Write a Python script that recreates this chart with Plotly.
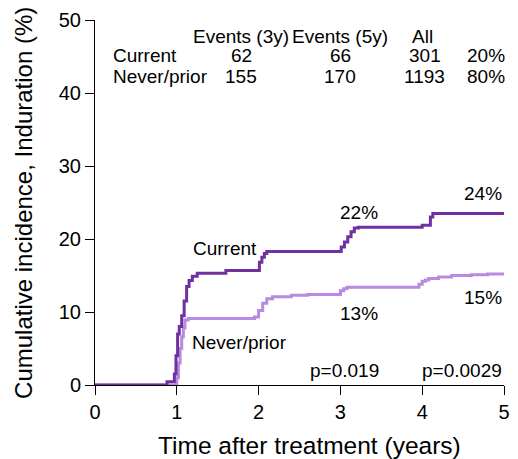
import plotly.graph_objects as go

# ---- data ----
current_t = [0, 0.88, 0.97, 0.99, 1.01, 1.03, 1.06, 1.09, 1.12, 1.15, 1.19, 1.25, 1.6, 2.01, 2.04, 2.07, 2.10,
             3.01, 3.05, 3.09, 3.13, 3.17, 3.22, 4.0, 4.1, 4.13, 5.0]
current_v = [0, 0.45, 1.5, 4.0, 7.0, 8.0, 9.5, 11.5, 13.5, 14.3, 14.9, 15.3, 15.7, 16.8, 17.5, 18.0, 18.3,
             18.9, 19.6, 20.3, 21.0, 21.5, 21.6, 21.9, 23.0, 23.5, 23.5]

never_t = [0, 1.0, 1.02, 1.04, 1.06, 1.08, 1.10, 1.14, 1.95, 2.0, 2.05, 2.1, 2.17, 2.4, 2.6,
           3.0, 3.04, 3.08, 3.96, 4.0, 4.04, 4.08, 4.2, 4.36, 4.6, 4.8, 5.0]
never_v = [0, 1.0, 3.0, 5.0, 6.6, 7.8, 8.9, 9.1, 9.3, 10.2, 11.2, 11.8, 12.1, 12.3, 12.4,
           12.9, 13.2, 13.4, 13.8, 14.2, 14.4, 14.6, 14.8, 15.0, 15.1, 15.2, 15.2]

groups = ["Current", "Never/prior"]
table_header = ["Events (3y)", "Events (5y)", "All"]
events_3y = ["62", "155"]
events_5y = ["66", "170"]
all_n = ["301", "1193"]
pct = ["20%", "80%"]
rate_3y = ["22%", "13%"]
rate_5y = ["24%", "15%"]
p_values = ["p=0.019", "p=0.0029"]

x_ticks = [0, 1, 2, 3, 4, 5]
y_ticks = [0, 10, 20, 30, 40, 50]
x_title = "Time after treatment (years)"
y_title = "Cumulative incidence, Induration (%)"

DARK = "#7030A0"
LIGHT = "#B78BE0"
FONT = "Liberation Sans, Arial, sans-serif"

fig = go.Figure()
fig.add_trace(go.Scatter(x=never_t, y=never_v, mode="lines", line=dict(color=LIGHT, width=3, shape="hv"),
                         name=groups[1], showlegend=False, hoverinfo="skip"))
fig.add_trace(go.Scatter(x=current_t, y=current_v, mode="lines", line=dict(color=DARK, width=3, shape="hv"),
                         name=groups[0], showlegend=False, hoverinfo="skip"))

ann = []
def add(text, x, y, xanchor="center", size=19):
    ann.append(dict(text=text, x=x, y=y, xref="x", yref="y", showarrow=False,
                    xanchor=xanchor, yanchor="middle", font=dict(size=size, color="black", family=FONT)))

# table
hdr_x = [1.79, 2.99, 4.0]
row_y = [45.1, 42.2]
for h, x in zip(table_header, hdr_x):
    add(h, x, 47.7)
for i in range(2):
    add(groups[i], 0.2, row_y[i], xanchor="left")
    add(events_3y[i], 1.79, row_y[i])
    add(events_5y[i], 3.0, row_y[i])
    add(all_n[i], 4.03, row_y[i])
    add(pct[i], 4.78, row_y[i])

# curve labels
add(groups[0], 1.59, 18.7)
add(groups[1], 1.77, 5.8)
add(rate_3y[0], 3.49, 23.6, xanchor="right")
add(rate_5y[0], 5.0, 26.3, xanchor="right")
add(rate_3y[1], 3.49, 9.73, xanchor="right")
add(rate_5y[1], 5.0, 11.96, xanchor="right")
add(p_values[0], 3.5, 1.92, xanchor="right")
add(p_values[1], 5.0, 1.92, xanchor="right")

# axis titles (placed relative to plot area)
ann.append(dict(text=x_title, x=0.525, y=-0.167, xref="paper", yref="paper", showarrow=False,
                xanchor="center", yanchor="middle", font=dict(size=24.5, color="black", family=FONT)))
ann.append(dict(text=y_title, x=-0.175, y=0.5, xref="paper", yref="paper", showarrow=False, textangle=-90,
                xanchor="center", yanchor="middle", font=dict(size=24, color="black", family=FONT)))

fig.update_layout(
    width=518, height=459,
    margin=dict(l=95, r=8, t=20, b=74),
    paper_bgcolor="white", plot_bgcolor="white",
    font=dict(family=FONT, color="black", size=20),
    annotations=ann,
    xaxis=dict(range=[0, 5], tickvals=x_ticks, ticks="outside", ticklen=9, tickwidth=1, tickcolor="black",
               showline=True, linecolor="black", linewidth=1, showgrid=False, zeroline=False,
               tickfont=dict(size=20)),
    yaxis=dict(range=[0, 50], tickvals=y_ticks, ticks="outside", ticklen=9, tickwidth=1, tickcolor="black",
               showline=True, linecolor="black", linewidth=1, showgrid=False, zeroline=False,
               tickfont=dict(size=20)),
)

fig.write_html("out.html")
